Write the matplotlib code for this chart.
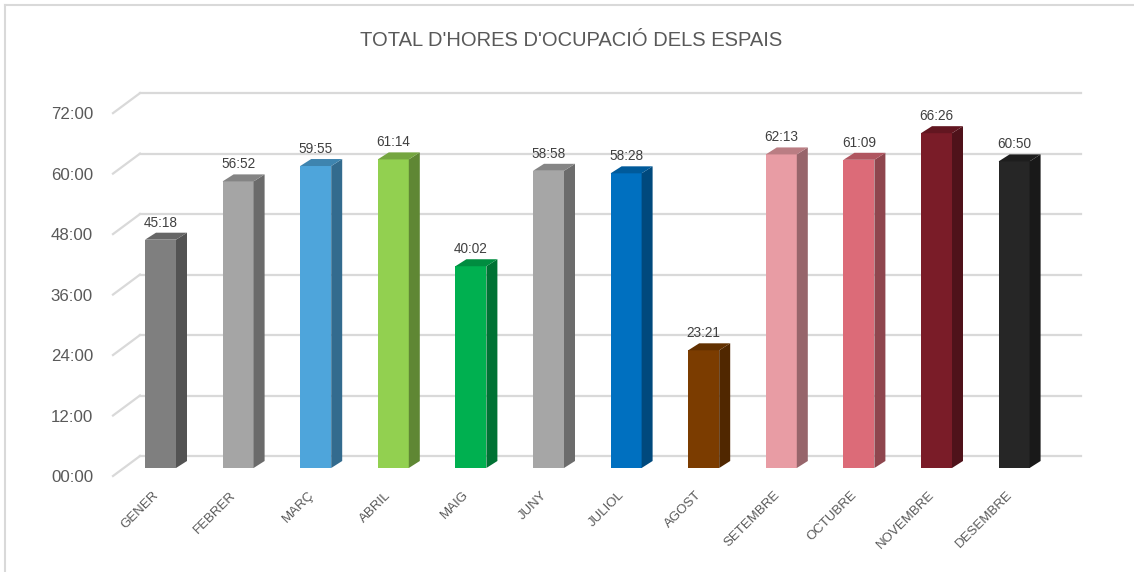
import numpy as np
import matplotlib
matplotlib.use('Agg')
import matplotlib.pyplot as plt
from matplotlib import font_manager
from matplotlib.patches import Polygon, Rectangle
from matplotlib.lines import Line2D
from matplotlib.colors import to_rgb

months = ['GENER', 'FEBRER', 'MARÇ', 'ABRIL', 'MAIG', 'JUNY', 'JULIOL',
          'AGOST', 'SETEMBRE', 'OCTUBRE', 'NOVEMBRE', 'DESEMBRE']
hours_txt = ['45:18', '56:52', '59:55', '61:14', '40:02', '58:58', '58:28',
             '23:21', '62:13', '61:09', '66:26', '60:50']
colors = ['#7f7f7f', '#a5a5a5', '#4ea5db', '#92d050', '#00b050', '#a6a6a6',
          '#0070c0', '#7b3c00', '#e89ca4', '#dc6b78', '#7a1c28', '#262626']
yticks = [0, 12, 24, 36, 48, 60, 72]
title = "TOTAL D'HORES D'OCUPACIÓ DELS ESPAIS"

hours = [int(t.split(':')[0]) + int(t.split(':')[1]) / 60 for t in hours_txt]


def has_font(name):
    try:
        font_manager.findfont(font_manager.FontProperties(family=name),
                              fallback_to_default=False)
        return True
    except ValueError:
        return False


narrow = has_font('Liberation Sans Narrow')
if narrow:
    nfam = ['Liberation Sans Narrow', 'DejaVu Sans']
    title_fs, lab_fs, cat_fs = 17.5, 11.2, 10.8
else:
    nfam = ['Liberation Sans', 'DejaVu Sans']
    title_fs, lab_fs, cat_fs = 14.5, 9.8, 9.5
rfam = ['Liberation Sans', 'DejaVu Sans']
txt = '#595959'
grid = '#d9d9d9'


def shade(c, k):
    return tuple(np.array(to_rgb(c)) * k)


W, H = 1134, 572
fig = plt.figure(figsize=(W / 100, H / 100), dpi=100)
ax = fig.add_axes([0, 0, 1, 1])
# pixel layout of the plot: first bar centre, bar spacing, baseline, px per hour
x0, step, base, pph = 160.5, 77.6, 468, 5.04
ax.set_xlim(-x0 / step, (W - x0) / step)
ax.set_ylim(-(H - base) / pph, base / pph)
ax.axis('off')

# 3d offsets (data units)
wall_dy = 12 / pph
floor_dy = 8 / pph
wall_x0 = (140 - x0) / step
wall_x1 = (1081 - x0) / step
front_x = (113 - x0) / step
bw = 31 / step
bdx = 11 / step
bdy = 7 / pph

for v in yticks:
    ax.plot([wall_x0, wall_x1], [v + wall_dy, v + wall_dy], color=grid, lw=1.6, zorder=1)
    ax.plot([front_x, wall_x0], [v - floor_dy, v + wall_dy], color=grid, lw=1.6, zorder=1)
    ax.text(front_x - 20 / step, v - floor_dy - 0.3, '%02d:00' % v, ha='right', va='center',
            fontsize=12.2, color=txt, family=rfam)

for i, (v, c) in enumerate(zip(hours, colors)):
    l, r = i - bw / 2, i + bw / 2
    ax.add_patch(Rectangle((l, 0), bw, v, facecolor=c, edgecolor='none', zorder=3))
    ax.add_patch(Polygon([(r, 0), (r + bdx, bdy), (r + bdx, v + bdy), (r, v)],
                         closed=True, facecolor=shade(c, 0.65), edgecolor='none', zorder=3))
    ax.add_patch(Polygon([(l, v), (l + bdx, v + bdy), (r + bdx, v + bdy), (r, v)],
                         closed=True, facecolor=shade(c, 0.8), edgecolor='none', zorder=3))
    ax.text(i, v + 2.6, hours_txt[i], ha='center', va='baseline', fontsize=lab_fs,
            color='#404040', family=nfam, zorder=4)
    ax.text(i - 8 / step, -21 / pph, months[i], rotation=45, rotation_mode='anchor',
            ha='right', va='top', fontsize=cat_fs, color=txt, family=nfam)

fig.text(571 / W, 1 - 40 / H, title, ha='center', va='center', fontsize=title_fs,
         color=txt, family=nfam)

# chart frame (only left and top edges are visible in the crop)
fig.add_artist(Line2D([5 / W, 5 / W], [0, 1 - 5 / H], color=grid, lw=1.5))
fig.add_artist(Line2D([5 / W, 1], [1 - 5 / H, 1 - 5 / H], color=grid, lw=1.5))

fig.savefig('out.png', dpi=100)
